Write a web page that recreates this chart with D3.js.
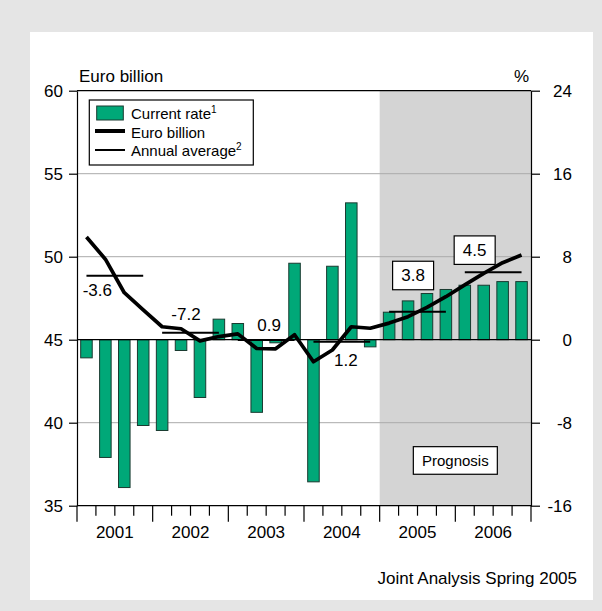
<!DOCTYPE html>
<html><head><meta charset="utf-8">
<script src="https://cdn.jsdelivr.net/npm/d3@7/dist/d3.min.js"></script>
<style>
body{margin:0;background:#e5e5e5;}
svg{display:block;font-family:"Liberation Sans",Arial,Helvetica,sans-serif;}
</style>
</head><body>
<svg id="chart" width="602" height="611"></svg>
<script>
// ---------- data ----------
const years = ["2001","2002","2003","2004","2005","2006"];
const quarterNames = ["Q1","Q2","Q3","Q4"];
const quarters = years.flatMap(y => quarterNames.map(q => y + q));
// current rate, % (right axis)
const currentRate = [-1.75,-11.35,-14.25,-8.27, -8.75,-1.04,-5.57,1.98, 1.56,-7.0,-0.3,7.37,
                     -13.7,7.08,13.19,-0.69, 2.65,3.74,4.45,4.84, 5.25,5.25,5.6,5.6];
// euro billion (left axis)
const euroBillion = [51.19,49.85,47.83,46.79, 45.78,45.66,44.93,45.19, 45.35,44.47,44.45,45.3,
                     43.67,44.38,45.78,45.69, 46.0,46.39,46.95,47.59, 48.3,49.0,49.64,50.1];
// annual average of euro billion (left axis) and its labels
const annualAverage = [48.85,45.42,44.98,44.88,46.69,49.06];
const annualLabels = ["-3.6","-7.2","0.9","1.2","3.8","4.5"];
const annualLabelBoxed = [false,false,false,false,true,true];
const leftTicks = [35,40,45,50,55,60];
const rightTicks = [-16,-8,0,8,16,24];
const gridTicks = [40,50,55];
const prognosisFrom = "2005Q1";
const legendItems = ["Current rate","Euro billion","Annual average"];
const legendSup = ["1","","2"];

// ---------- layout ----------
const L = 77, R = 531, T = 90.7, B = 505.7;
const svg = d3.select("#chart");

const x = d3.scaleBand().domain(quarters).range([L,R]).paddingInner(0.39).paddingOuter(0.195);
const xi = d3.scaleLinear().domain([0, quarters.length]).range([L,R]);
const yL = d3.scaleLinear().domain([35,60]).range([B,T]);
const yR = d3.scaleLinear().domain([-16,24]).range([B,T]);
const cx = q => x(q) + x.bandwidth()/2;

// panel
svg.append("rect").attr("x",0).attr("y",0).attr("width",602).attr("height",611).attr("fill","#e5e5e5");
svg.append("rect").attr("x",30).attr("y",32).attr("width",563).attr("height",568).attr("fill","#ffffff");

// prognosis shade
const pIdx = quarters.indexOf(prognosisFrom);
svg.append("rect").attr("x",xi(pIdx)).attr("y",T).attr("width",R-xi(pIdx)).attr("height",B-T).attr("fill","#d4d4d4");

// gridlines
svg.append("g").selectAll("line").data(gridTicks).join("line")
  .attr("x1",L).attr("x2",R).attr("y1",d=>yL(d)).attr("y2",d=>yL(d))
  .attr("stroke","#aaaaaa").attr("stroke-width",1);

// bars
svg.append("g").selectAll("rect").data(quarters).join("rect")
  .attr("x",q=>x(q)).attr("width",x.bandwidth())
  .attr("y",(q,i)=>yR(Math.max(0,currentRate[i])))
  .attr("height",(q,i)=>Math.abs(yR(currentRate[i])-yR(0)))
  .attr("fill","#00a878").attr("stroke","#1a3a30").attr("stroke-width",1);

// zero line
svg.append("line").attr("x1",L).attr("x2",R).attr("y1",yR(0)).attr("y2",yR(0))
  .attr("stroke","#000").attr("stroke-width",1.2);

// annual average lines
svg.append("g").selectAll("line").data(years).join("line")
  .attr("x1",(y,i)=>cx(quarters[i*4])).attr("x2",(y,i)=>cx(quarters[i*4+3]))
  .attr("y1",(y,i)=>yL(annualAverage[i])).attr("y2",(y,i)=>yL(annualAverage[i]))
  .attr("stroke","#000").attr("stroke-width",2);

// euro billion line
svg.append("path").datum(euroBillion)
  .attr("d", d3.line().x((d,i)=>cx(quarters[i])).y(d=>yL(d)))
  .attr("fill","none").attr("stroke","#000").attr("stroke-width",3.7).attr("stroke-linejoin","round");

// frame
svg.append("line").attr("x1",L).attr("x2",R).attr("y1",T).attr("y2",T).attr("stroke","#000").attr("stroke-width",1.2);

// axes
const fmt = d => String(d);
const axL = svg.append("g").attr("transform",`translate(${L},0)`)
  .call(d3.axisLeft(yL).tickValues(leftTicks).tickFormat(fmt).tickSize(8).tickPadding(6).tickSizeOuter(0));
const axR = svg.append("g").attr("transform",`translate(${R},0)`)
  .call(d3.axisRight(yR).tickValues(rightTicks).tickFormat(fmt).tickSize(9).tickSizeOuter(0));
axR.selectAll("text").attr("text-anchor","end").attr("x",41);
[axL,axR].forEach(a=>{
  a.selectAll("path,line").attr("stroke","#000").attr("stroke-width",1.2);
  a.selectAll("text").attr("font-size",17).attr("fill","#000").attr("font-family","Liberation Sans, Arial, sans-serif");
});
// bottom axis
const axB = svg.append("g");
axB.append("line").attr("x1",L).attr("x2",R).attr("y1",B).attr("y2",B).attr("stroke","#000").attr("stroke-width",1.2);
axB.selectAll("line.t").data(d3.range(quarters.length+1)).join("line").attr("class","t")
  .attr("x1",i=>xi(i)).attr("x2",i=>xi(i)).attr("y1",B)
  .attr("y2",i=>B + (i%4===0 ? 16 : 10)).attr("stroke","#000").attr("stroke-width",1.2);
axB.selectAll("text").data(years).join("text")
  .attr("x",(y,i)=>(xi(i*4)+xi(i*4+4))/2).attr("y",538)
  .attr("text-anchor","middle").attr("font-size",17).text(d=>d);

// axis titles
svg.append("text").attr("x",79).attr("y",82).attr("font-size",17).text("Euro billion");
svg.append("text").attr("x",529).attr("y",82).attr("font-size",17).attr("text-anchor","end").text("%");

// annual average labels
const labelDx = [-17.5,-4.5,3,4,-4.4,-18.5];
const labelDy = [20,-12.7,-9.5,24.5,-30.4,-16.4];
years.forEach((y,i)=>{
  const px = (xi(i*4)+xi(i*4+4))/2 + labelDx[i];
  const py = yL(annualAverage[i]) + labelDy[i];
  if(annualLabelBoxed[i]){
    svg.append("rect").attr("x",px-20.5).attr("y",py-20).attr("width",41).attr("height",28.5)
      .attr("fill","#fff").attr("stroke","#000").attr("stroke-width",1.2);
  }
  svg.append("text").attr("x",px).attr("y",py).attr("text-anchor","middle").attr("font-size",17).text(annualLabels[i]);
});

// prognosis box
const pgx = xi(pIdx+4), pgy = yR(-11.64);
svg.append("rect").attr("x",pgx-42).attr("y",pgy-13.8).attr("width",84).attr("height",27.6)
  .attr("fill","#fff").attr("stroke","#000").attr("stroke-width",1.2);
svg.append("text").attr("x",pgx).attr("y",pgy+5.5).attr("text-anchor","middle").attr("font-size",15).text("Prognosis");

// legend
const lg = svg.append("g");
lg.append("rect").attr("x",89.3).attr("y",100).attr("width",164).attr("height",65)
  .attr("fill","#fff").attr("stroke","#000").attr("stroke-width",1.2);
lg.append("rect").attr("x",96.7).attr("y",106).attr("width",26.6).attr("height",14)
  .attr("fill","#00a878").attr("stroke","#1a3a30").attr("stroke-width",1);
lg.append("line").attr("x1",95).attr("x2",125).attr("y1",131).attr("y2",131).attr("stroke","#000").attr("stroke-width",4);
lg.append("line").attr("x1",95).attr("x2",125).attr("y1",150).attr("y2",150).attr("stroke","#000").attr("stroke-width",2);
const lgBase = [119,137.5,156];
legendItems.forEach((t,i)=>{
  const tx = lg.append("text").attr("x",131).attr("y",lgBase[i]).attr("font-size",15).text(t);
  if(legendSup[i]) tx.append("tspan").attr("font-size",10).attr("dy",-6).text(legendSup[i]);
});

// source
svg.append("text").attr("x",577).attr("y",584).attr("text-anchor","end").attr("font-size",17).text("Joint Analysis Spring 2005");
</script>
</body></html>
